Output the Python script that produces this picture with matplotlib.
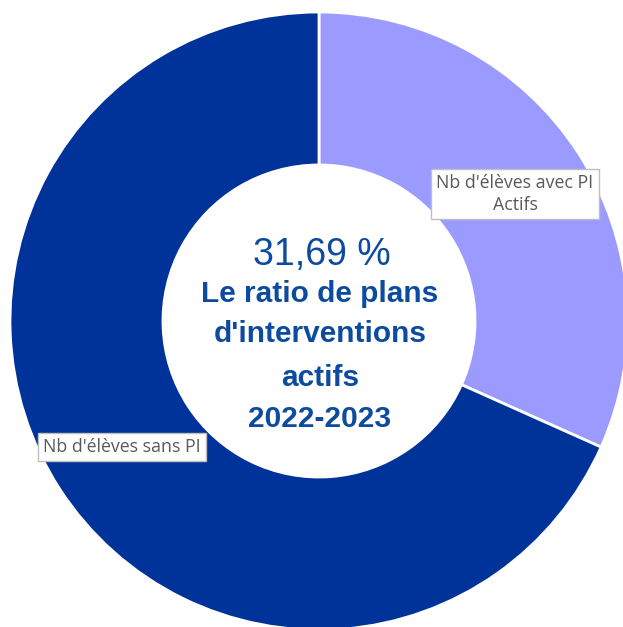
import matplotlib.pyplot as plt

etiquettes = ["Nb d'élèves avec PI\nActifs", "Nb d'élèves sans PI"]
valeurs = [31.69, 68.31]
couleurs = ["#9B9BFF", "#003399"]
titre = ["Le ratio de plans", "d'interventions", "actifs", "2022-2023"]

W, H = 623, 627

fig = plt.figure(figsize=(W / 100, H / 100), dpi=100)
ax = fig.add_axes([0, 0, 1, 1])

# centre et rayon en pixels (y compté depuis le haut de l'image)
cx, cy, r = 319, H - 321, 309

ax.pie(valeurs, colors=couleurs, startangle=90, counterclock=False,
       center=(cx, cy), radius=r, frame=True,
       wedgeprops=dict(width=r * 0.495, edgecolor="white", linewidth=2))
ax.set_xlim(0, W)
ax.set_ylim(0, H)
ax.set_aspect("equal")
ax.axis("off")

bleu = "#0D4BA0"
pct = f"{valeurs[0]:.2f}".replace(".", ",") + " %"
ax.text(322, H - 265, pct, ha="center", va="baseline", fontsize=27,
        color=bleu, family="Liberation Sans")
for ligne, yb in zip(titre, [302, 342, 386, 427]):
    ax.text(320, H - yb, ligne, ha="center", va="baseline", fontsize=21.5,
            fontweight="bold", color=bleu, family="Liberation Sans")

boite = dict(boxstyle="square,pad=0.3", fc="white", ec="#BFBFBF", lw=1)
ax.text(515, H - 194, etiquettes[0], ha="center", va="center", fontsize=12.8,
        color="#595959", family="Open Sans", linespacing=1.3, bbox=boite)
ax.text(122, H - 447, etiquettes[1], ha="center", va="center", fontsize=12.8,
        color="#595959", family="Open Sans", bbox=boite)

fig.savefig("out.png", dpi=100)
